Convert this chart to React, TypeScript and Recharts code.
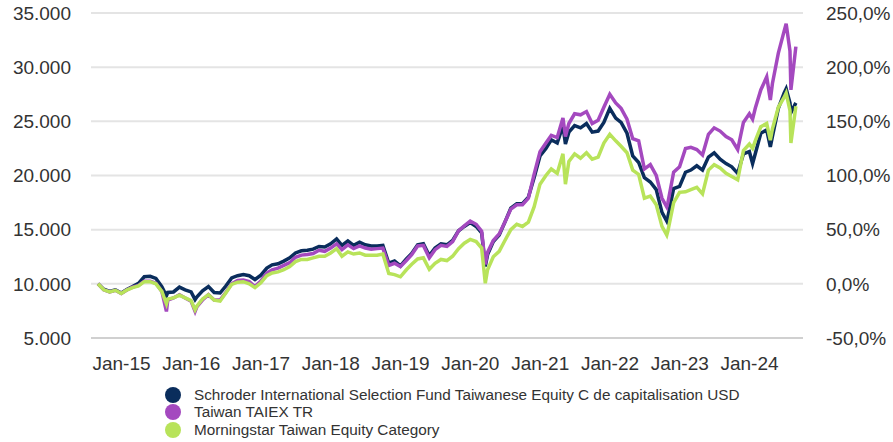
import { LineChart, Line, XAxis, YAxis, CartesianGrid } from 'recharts';

const COLORS = {
  fund: '#0a2d5c',
  index: '#a449bf',
  category: '#b8e35a',
};

const SERIES_NAMES = [
  'Schroder International Selection Fund Taiwanese Equity C de capitalisation USD',
  'Taiwan TAIEX TR',
  'Morningstar Taiwan Equity Category',
];

const dates = [
  '2014-08-31', '2014-09-30', '2014-10-31', '2014-11-30', '2014-12-31',
  '2015-01-31', '2015-02-28', '2015-03-31', '2015-04-30', '2015-05-31', '2015-06-30',
  '2015-07-31', '2015-08-24', '2015-08-31', '2015-09-30', '2015-10-31', '2015-11-30', '2015-12-31',
  '2016-01-21', '2016-01-31', '2016-02-29', '2016-03-31', '2016-04-30', '2016-05-31', '2016-06-30',
  '2016-07-31', '2016-08-31', '2016-09-30', '2016-10-31', '2016-11-30', '2016-12-31',
  '2017-01-31', '2017-02-28', '2017-03-31', '2017-04-30', '2017-05-31', '2017-06-30',
  '2017-07-31', '2017-08-31', '2017-09-30', '2017-10-31', '2017-11-30', '2017-12-31',
  '2018-01-31', '2018-02-28', '2018-03-31', '2018-04-30', '2018-05-31', '2018-06-30',
  '2018-07-31', '2018-08-31', '2018-09-30', '2018-10-31', '2018-11-30', '2018-12-31',
  '2019-01-31', '2019-02-28', '2019-03-31', '2019-04-30', '2019-05-31', '2019-06-30',
  '2019-07-31', '2019-08-31', '2019-09-30', '2019-10-31', '2019-11-30', '2019-12-31',
  '2020-01-31', '2020-02-29', '2020-03-19', '2020-03-31', '2020-04-30', '2020-05-31', '2020-06-30',
  '2020-07-31', '2020-08-31', '2020-09-30', '2020-10-31', '2020-11-30', '2020-12-31',
  '2021-01-31', '2021-02-28', '2021-03-31', '2021-04-30', '2021-05-13', '2021-05-31', '2021-06-30',
  '2021-07-31', '2021-08-31', '2021-09-30', '2021-10-31', '2021-11-30', '2021-12-31',
  '2022-01-31', '2022-02-28', '2022-03-31', '2022-04-30', '2022-05-31', '2022-06-30',
  '2022-07-31', '2022-08-31', '2022-09-30', '2022-10-25', '2022-10-31', '2022-11-30', '2022-12-31',
  '2023-01-31', '2023-02-28', '2023-03-31', '2023-04-30', '2023-05-31', '2023-06-30',
  '2023-07-31', '2023-08-31', '2023-09-30', '2023-10-31', '2023-11-30', '2023-12-31',
  '2024-01-17', '2024-01-31', '2024-02-29', '2024-03-31', '2024-04-19', '2024-04-30', '2024-05-31',
  '2024-06-30', '2024-07-11', '2024-07-31', '2024-08-05', '2024-08-31',
];

const fund = [
  10000, 9500, 9300, 9450, 9150,
  9500, 9750, 10050, 10650, 10700, 10500,
  9750, 8900, 9200, 9250, 9700, 9450, 9250,
  8550, 8800, 9350, 9750, 9200, 9150, 9800,
  10550, 10750, 10850, 10750, 10400, 10800,
  11450, 11750, 11850, 12100, 12400, 12850,
  13050, 13100, 13200, 13450, 13400, 13700,
  14150, 13550, 13950, 13550, 13850, 13600,
  13500, 13500, 13550, 11900, 12100, 11650,
  12300, 12800, 13600, 13700, 12600, 13300,
  13700, 13600, 14000, 14900, 15300, 15650,
  15300, 14700, 11600, 12700, 13900, 14500, 15700,
  17000, 17400, 17400, 18000, 19800, 21800,
  22500, 23300, 23000, 24600, 22900, 24000, 24600,
  24400, 24800, 24000, 24100, 24900, 26200,
  25300, 24900, 23900, 21800, 21200, 19800,
  19400, 18700, 16600, 15800, 16200, 18800, 19000,
  20300, 20500, 20900, 20500, 21700, 22100,
  21500, 21100, 20800, 20200, 22000, 22200,
  21100, 22000, 23900, 24200, 22650, 23600, 26200,
  27600, 28000, 26700, 25800, 26700,
];

const taiex = [
  10000, 9450, 9250, 9400, 9100,
  9450, 9700, 9850, 10250, 10250, 10050,
  9300, 7450, 8500, 8700, 9000, 8700, 8400,
  7450, 7900, 8500, 9000, 8500, 8500, 9200,
  10000, 10300, 10350, 10200, 9750, 10250,
  11000, 11300, 11450, 11700, 11950, 12450,
  12650, 12700, 12800, 13100, 13000, 13300,
  13700, 13150, 13600, 13250, 13500, 13300,
  13200, 13250, 13300, 11700, 11900, 11600,
  12150, 12700, 13500, 13550, 12400, 13150,
  13550, 13450, 13900, 14900, 15350, 15800,
  15500, 14850, 11800, 12900, 14000, 14600, 15700,
  16900, 17300, 17300, 17900, 20100, 22200,
  23000, 23700, 23500, 25300, 23600, 24800, 25700,
  25600, 25900, 24800, 25100, 26300, 27500,
  26700, 26200, 25200, 23400, 23200, 20600,
  21000, 20000, 17900, 17100, 17500, 20300, 20800,
  22500, 22600, 22400, 21900, 23800, 24400,
  24100, 23600, 23300, 22400, 24900, 25700,
  25200, 26200, 27900, 29100, 26960, 28500, 31300,
  33300, 34000, 31500, 27900, 31900,
];

const category = [
  10000, 9450, 9250, 9400, 9100,
  9450, 9650, 9800, 10200, 10200, 10000,
  9300, 8150, 8600, 8700, 8950, 8700, 8450,
  7600, 7950, 8600, 9000, 8500, 8400, 9150,
  9950, 10150, 10200, 10000, 9650, 10100,
  10750, 11000, 11100, 11300, 11600, 12050,
  12250, 12250, 12400, 12550, 12550, 12850,
  13250, 12550, 12950, 12750, 12850, 12650,
  12650, 12650, 12750, 10950, 10850, 10650,
  11300, 11800, 12300, 12400, 11350, 11900,
  12250, 12150, 12550, 13250, 13750, 14100,
  13900, 13300, 10050, 11300, 12500, 13000, 14000,
  15000, 15500, 15300, 15700, 17100, 19200,
  20000, 20600, 20200, 22000, 19200, 21300, 22000,
  21600, 22100, 21500, 21700, 23000, 23800,
  23200, 22700, 22100, 20500, 20100, 17900,
  18100, 17300, 15300, 14500, 14900, 17500, 18450,
  18500, 18700, 18900, 18300, 20500, 21000,
  20700, 20200, 19900, 19600, 22300, 22900,
  22500, 23200, 24500, 24800, 23270, 24300, 26300,
  27200, 27600, 26000, 23000, 26400,
];

const leftTicks = [5000, 10000, 15000, 20000, 25000, 30000, 35000];
const rightTicks = [-50, 0, 50, 100, 150, 200, 250];
const yearTicks = [2015, 2016, 2017, 2018, 2019, 2020, 2021, 2022, 2023, 2024];

function toYear(d: string) {
  const [y, m, day] = d.split('-').map(Number);
  const start = Date.UTC(y, 0, 1);
  const end = Date.UTC(y + 1, 0, 1);
  return y + (Date.UTC(y, m - 1, day) - start) / (end - start);
}

// growth of 10.000 on the left axis, same thing as % change on the right axis
const data = dates.map((d, i) => ({
  t: toYear(d),
  fund: fund[i],
  taiex: taiex[i],
  category: category[i],
  fundPct: (fund[i] / 10000 - 1) * 100,
}));

const tickStyle = { fontSize: 19, fill: '#333333' };

export default function App() {
  const legendColors = [COLORS.fund, COLORS.index, COLORS.category];
  return (
    <div
      style={{
        position: 'absolute',
        left: 0,
        top: 0,
        width: 893,
        height: 442,
        background: '#fff',
        fontFamily: 'Arial, "Liberation Sans", sans-serif',
      }}
    >
      <LineChart width={893} height={442} data={data} margin={{ top: 13, right: 0, left: 0, bottom: 64 }}>
        <CartesianGrid yAxisId="left" vertical={false} stroke="#e4e4e4" strokeWidth={2} />
        <XAxis
          dataKey="t"
          type="number"
          domain={[2014.563, 2024.766]}
          ticks={yearTicks}
          tickFormatter={(v) => `Jan-${String(v % 100).padStart(2, '0')}`}
          tick={tickStyle}
          tickLine={false}
          tickSize={0}
          tickMargin={19}
          axisLine={{ stroke: '#d0d0d0', strokeWidth: 2 }}
          height={40}
          allowDataOverflow
        />
        <YAxis
          yAxisId="left"
          orientation="left"
          domain={[5000, 35000]}
          ticks={leftTicks}
          tickFormatter={(v) => v.toLocaleString('de-DE')}
          tick={tickStyle}
          tickLine={false}
          tickSize={0}
          tickMargin={20}
          axisLine={false}
          width={91}
          allowDataOverflow
        />
        <YAxis
          yAxisId="right"
          orientation="right"
          type="number"
          domain={[-50, 250]}
          ticks={rightTicks}
          tickFormatter={(v) => `${Number(v).toFixed(1).replace('.', ',')}%`}
          tick={{ ...tickStyle, textAnchor: 'start' }}
          tickLine={false}
          tickSize={0}
          tickMargin={23}
          axisLine={false}
          width={90}
          allowDataOverflow
        />
        <Line yAxisId="right" type="linear" dataKey="fundPct" stroke="none" strokeWidth={0} dot={false} activeDot={false} isAnimationActive={false} />
        <Line yAxisId="left" type="linear" dataKey="fund" stroke={COLORS.fund} strokeWidth={3.5} dot={false} isAnimationActive={false} />
        <Line yAxisId="left" type="linear" dataKey="taiex" stroke={COLORS.index} strokeWidth={3.5} dot={false} isAnimationActive={false} />
        <Line yAxisId="left" type="linear" dataKey="category" stroke={COLORS.category} strokeWidth={3.5} dot={false} isAnimationActive={false} />
      </LineChart>
      <div style={{ position: 'absolute', left: 165, top: 386 }}>
        {SERIES_NAMES.map((name, i) => (
          <div key={name} style={{ display: 'flex', alignItems: 'center', height: 17.5, fontSize: 15.3, color: '#333' }}>
            <span
              style={{
                display: 'inline-block',
                width: 16,
                height: 16,
                borderRadius: '50%',
                background: legendColors[i],
                marginRight: 13,
                flexShrink: 0,
              }}
            />
            {name}
          </div>
        ))}
      </div>
    </div>
  );
}
